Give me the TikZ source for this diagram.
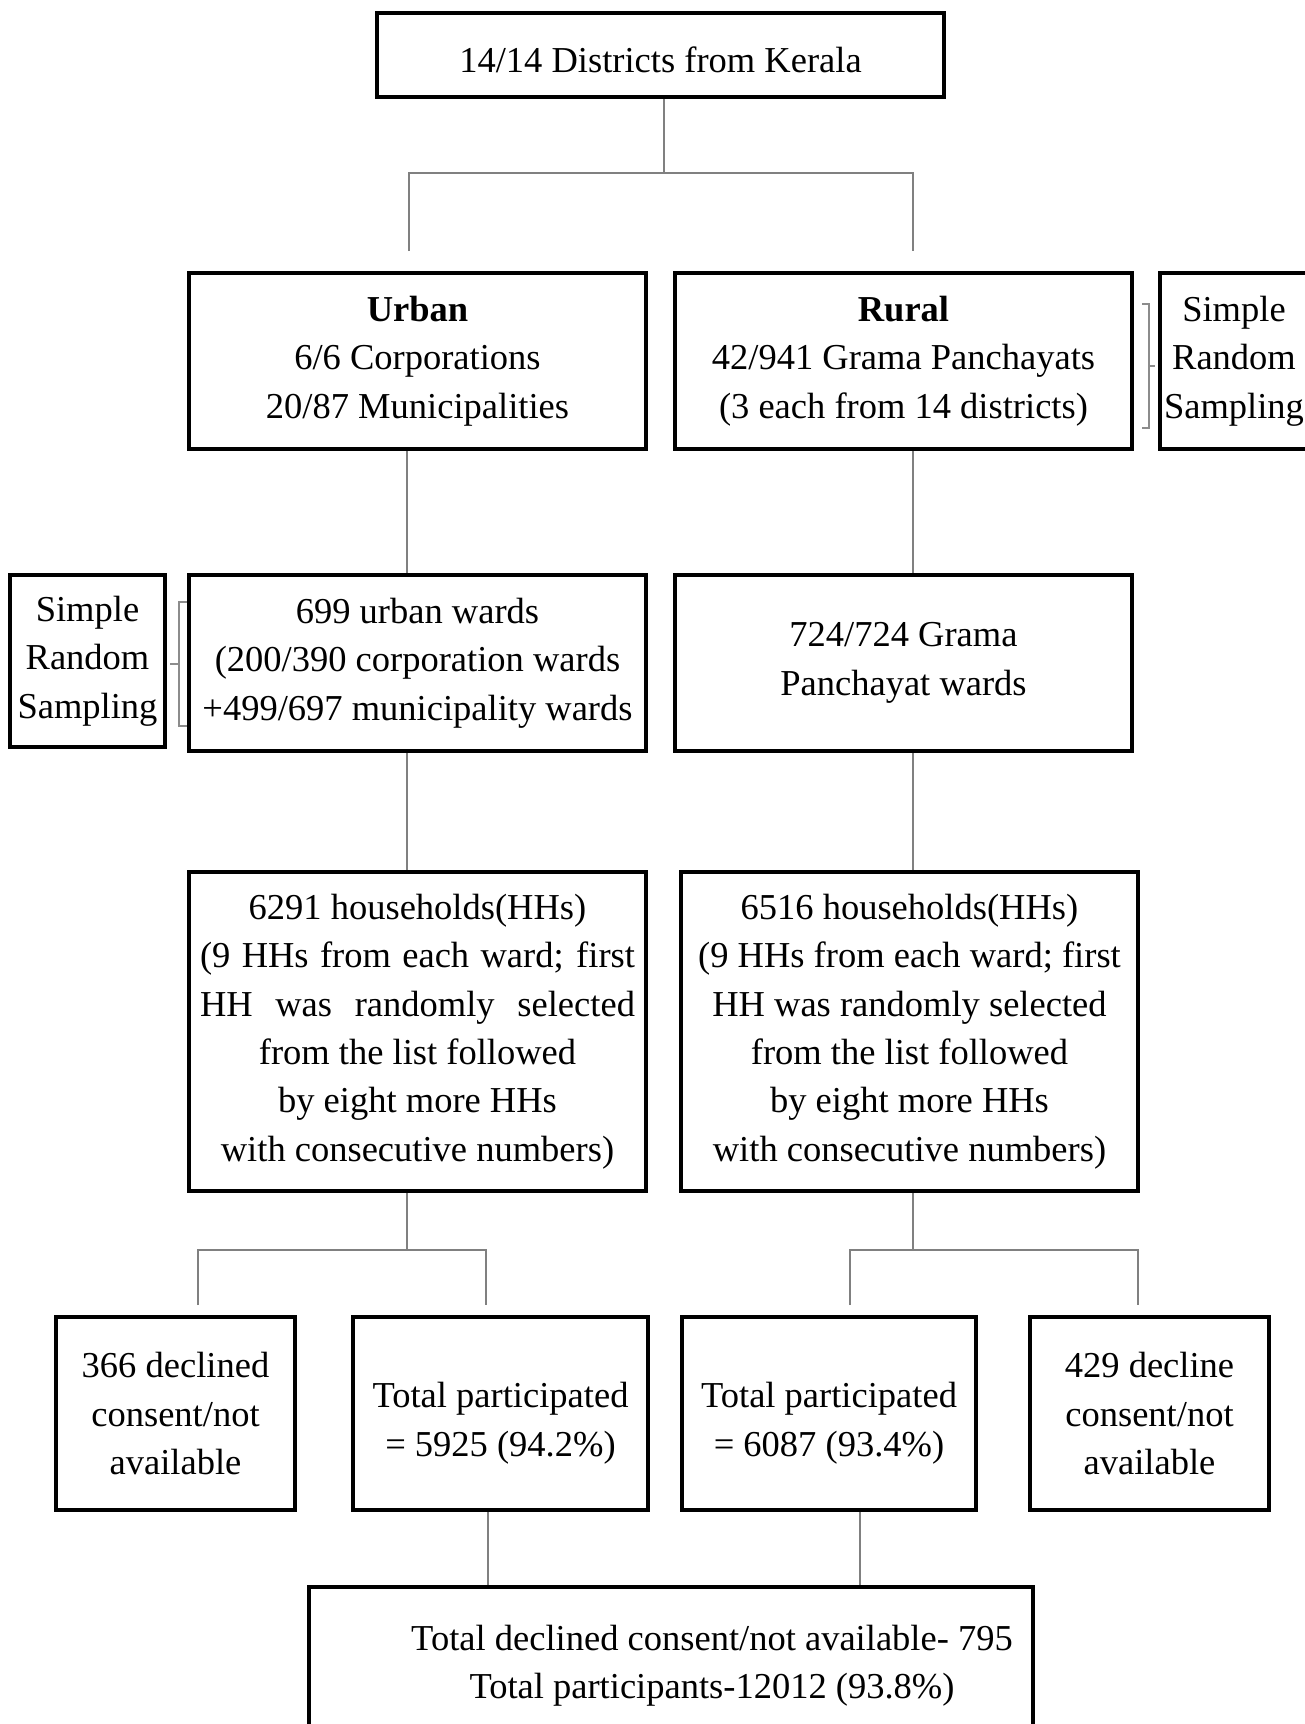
\documentclass[tikz,border=0pt]{standalone}
\usepackage{fontspec}
\setmainfont{Liberation Serif}
\begin{document}
\begin{tikzpicture}[x=0.5pt,y=-0.5pt]
                        \tikzstyle{box}=[draw, line width=2pt, align=center, inner sep=0pt, font=\fontsize{18.25}{24.2}\selectfont]
                        \tikzstyle{link}=[draw=black!50, line width=1.2pt]
                        \tikzstyle{brace}=[draw=black!45, line width=0.7pt]
                        \clip (0,0) rectangle (1305,1724);
                        \node[box, minimum width=283.5pt, minimum height=42pt] (districts) at (660.5,55) {\rule{0pt}{18pt}14/14 Districts from Kerala};
                        \node[box, minimum width=228.5pt, minimum height=88pt] (urban) at (417.5,361) {\textbf{Urban}\\6/6 Corporations\\20/87 Municipalities};
                        \node[box, minimum width=228.5pt, minimum height=88pt] (rural) at (903.5,361) {\textbf{Rural}\\42/941 Grama Panchayats\\(3 each from 14 districts)};
                        \node[box, minimum width=74pt, minimum height=88pt] (srsright) at (1234,361) {Simple\\Random\\Sampling};
                        \node[box, minimum width=77.5pt, minimum height=86pt] (srsleft) at (87.5,661) {Simple\\Random\\Sampling};
                        \node[box, minimum width=228.5pt, minimum height=88pt] (uwards) at (417.5,663) {699 urban wards\\(200/390 corporation wards\\+499/697 municipality wards};
                        \node[box, minimum width=228.5pt, minimum height=88pt] (rwards) at (903.5,663) {724/724 Grama\\Panchayat wards};
                        \node[box, minimum width=228.5pt, minimum height=159.5pt] (uhh) at (417.5,1031.5) {6291 households(HHs)\\\makebox[217.5pt][s]{(9 HHs from each ward; first}\\\makebox[217.5pt][s]{HH was randomly selected}\\from the list followed\\by eight more HHs\\with consecutive numbers)};
                        \node[box, minimum width=228.5pt, minimum height=159.5pt] (rhh) at (909.5,1031.5) {6516 households(HHs)\\(9 HHs from each ward; first\\HH was randomly selected\\from the list followed\\by eight more HHs\\with consecutive numbers)};
                        \node[box, minimum width=119.5pt, minimum height=96.5pt] (udeclined) at (175.5,1413.5) {366 declined\\consent/not\\available};
                        \node[box, minimum width=147.5pt, minimum height=96.5pt] (upart) at (500.5,1413.5) {\rule{0pt}{22.5pt}Total participated\\= 5925 (94.2\%)};
                        \node[box, minimum width=147pt, minimum height=96.5pt] (rpart) at (829,1413.5) {\rule{0pt}{22.5pt}Total participated\\= 6087 (93.4\%)};
                        \node[box, minimum width=119.5pt, minimum height=96.5pt] (rdeclined) at (1149.5,1413.5) {429 decline\\consent/not\\available};
                        \node[box, minimum width=362pt, minimum height=79pt] (total) at (671,1666) {\hspace*{41pt}Total declined consent/not available- 795\\\hspace*{41pt}Total participants-12012 (93.8\%)};
                        \coordinate (ucol) at (407,0);
                        \coordinate (rcol) at (913,0);
                        \coordinate (topjoin) at (664,173);
                        \coordinate (ujoin) at (407,1250);
                        \coordinate (rjoin) at (913,1250);
                        \coordinate (pleft) at (488,0);
                        \coordinate (pright) at (860,0);
                        \draw[link] (topjoin |- districts.south) -- (topjoin);
                        \draw[link] (409,251) -- (409,173) -- (913,173) -- (913,251);
                        \draw[link] (ucol |- urban.south) -- (ucol |- uwards.north);
                        \draw[link] (ucol |- uwards.south) -- (ucol |- uhh.north);
                        \draw[link] (rcol |- rural.south) -- (rcol |- rwards.north);
                        \draw[link] (rcol |- rwards.south) -- (rcol |- rhh.north);
                        \draw[link] (ucol |- uhh.south) -- (ujoin);
                        \draw[link] (198,1305) -- (198,1250) -- (486,1250) -- (486,1305);
                        \draw[link] (rcol |- rhh.south) -- (rjoin);
                        \draw[link] (850,1305) -- (850,1250) -- (1138,1250) -- (1138,1305);
                        \draw[link] (pleft |- upart.south) -- (pleft |- total.north);
                        \draw[link] (pright |- rpart.south) -- (pright |- total.north);
                        \draw[brace] (1142,304) -- (1149,304) -- (1149,428) -- (1142,428);
                        \draw[brace] (1149,366) -- (1155,366);
                        \draw[brace] (187,602) -- (179,602) -- (179,726) -- (187,726);
                        \draw[brace] (179,664) -- (170,664);
                    \end{tikzpicture}
\end{document}
